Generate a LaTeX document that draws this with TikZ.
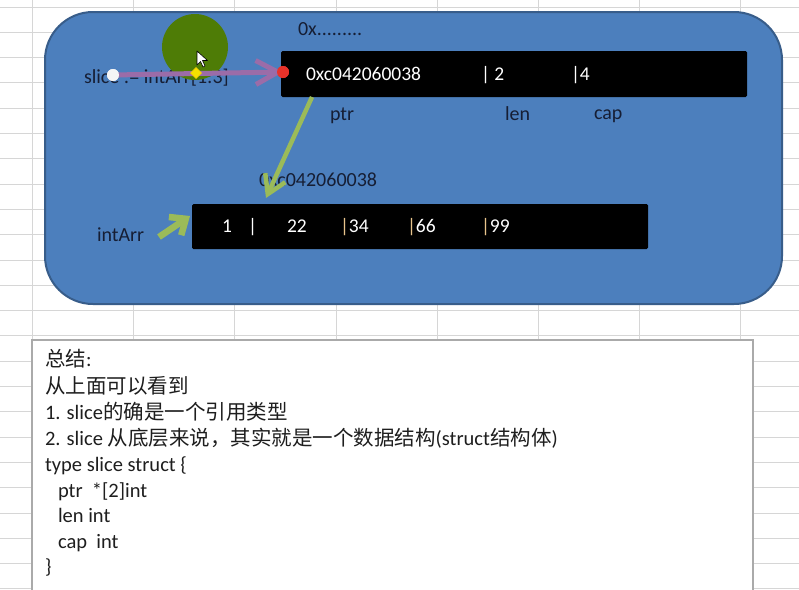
\documentclass[tikz,border=0pt]{standalone}
\usepackage{fontspec}
\setmainfont{Carlito}
\newfontfamily\cjk{Noto Sans CJK SC}
\usetikzlibrary{arrows.meta,shapes.geometric}
\definecolor{gridc}{RGB}{214,214,214}
\definecolor{bluefill}{RGB}{76,127,189}
\definecolor{blueedge}{RGB}{56,93,138}
\definecolor{labelc}{RGB}{22,30,52}
\definecolor{purplec}{RGB}{155,108,168}
\definecolor{greenc}{RGB}{155,187,89}
\definecolor{olivec}{RGB}{78,124,6}
\definecolor{redc}{RGB}{232,50,42}
\definecolor{yellowc}{RGB}{245,225,0}
\definecolor{tanc}{RGB}{232,196,140}
\definecolor{boxedge}{RGB}{170,170,170}
\definecolor{textc}{RGB}{30,30,30}
\begin{document}
\begin{tikzpicture}[x=1pt,y=-1pt,
  every node/.style={inner sep=0pt, outer sep=0pt},
  lbl/.style={anchor=base west, font=\fontsize{20}{24}\selectfont, text=labelc},
  wlbl/.style={anchor=base west, font=\fontsize{19.5}{24}\selectfont, text=white},
  sumtext/.style={anchor=base west, font=\fontsize{20.5}{25}\selectfont, text=textc},
  blackbox/.style={fill=black, rounded corners=1.5pt, anchor=north west},
  gridline/.style={draw=gridc, line width=1pt},
  dotnode/.style={circle, minimum size=12pt},
  ptrarrow/.style={draw=greenc, line width=4.5pt, -{Straight Barb[length=18pt,width=22pt]}},
  slicearrow/.style={draw=purplec, line width=5pt, -{Straight Barb[length=22pt,width=24pt]}},
  intarrow/.style={draw=greenc, line width=6.5pt, -{Straight Barb[length=13pt,width=22pt]}}
]
\useasboundingbox (0,0) rectangle (799,589);
\fill[white] (0,0) rectangle (799,589);
% spreadsheet grid
\foreach \gx in {32,133,234,336,437,538,639,740}
  \draw[gridline] (\gx,0) -- (\gx,589);
\foreach \k in {0,...,23}
  \draw[gridline] (0,{7+25.3*\k}) -- (799,{7+25.3*\k});
% blue rounded shape
\node[fill=bluefill, draw=blueedge, line width=2pt, rounded corners=48pt,
      anchor=north west, minimum width=737pt, minimum height=292pt] (panel) at (45,12) {};
% slice header box
\node[blackbox, minimum width=466pt, minimum height=46pt] (slicebox) at (281,51) {};
\node[lbl] (addrdots) at (298,35) {0x.........};
\node[wlbl] (ptrval) at (306,80) {0xc042060038};
\node[wlbl] (lenval) at (481,80) {| 2};
\node[wlbl] (capval) at (571,80) {|4};
\node[lbl] (ptrlbl) at (330,120) {ptr};
\node[lbl] (lenlbl) at (505,120) {len};
\node[lbl] (caplbl) at (594,119) {cap};
% slice statement
\node[lbl] (stmt) at (84,83) {slice := intArr[1:3]};
% mouse highlight
\node[circle, fill=olivec, minimum size=66pt] (hilite) at (195,47) {};
% array box
\node[blackbox, minimum width=456pt, minimum height=45pt] (arrbox) at (192,204) {};
\node[lbl] (arraddr) at (259,186) {0xc042060038};
\node[wlbl] (e1) at (222,232) {1};
\node[wlbl] (b1) at (248,232) {|};
\node[wlbl] (e2) at (287,232) {22};
\node[wlbl] (e3) at (340,232) {{\color{tanc}|}34};
\node[wlbl] (e4) at (407,232) {{\color{tanc}|}66};
\node[wlbl] (e5) at (481,232) {{\color{tanc}|}99};
\node[lbl] (intarr) at (97,241) {intArr};
% connectors
\node[dotnode, fill=white!92!gray] (sdot) at (113,75) {};
\node[dotnode, fill=redc] (rdot) at (283,72) {};
\draw[slicearrow] (sdot.center) -- (rdot.center);
\node[dotnode, fill=white!92!gray] at (sdot) {};
\node[dotnode, fill=redc] at (rdot) {};
\node[diamond, fill=yellowc, minimum size=11pt, draw=yellowc!80!orange, line width=0.5pt] (handle) at (196,73) {};
\coordinate (ptrstart) at (312,97);
\coordinate (ptrend) at (266,198);
\draw[ptrarrow] (ptrstart) -- (ptrend);
\coordinate (intstart) at (159,237);
\coordinate (intend) at (190,216);
\draw[intarrow] (intstart) -- (intend);
% cursor
\draw[fill=white, draw=black, line width=0.6pt, line join=round]
  (197,51) -- (197,65) -- (200.5,61.5) -- (203,67) -- (205,66) -- (202.5,60.5) -- (207.5,60.5) -- cycle;
% summary box
\node[fill=white, draw=boxedge, line width=1.2pt, anchor=north west,
      minimum width=721pt, minimum height=262pt] (summary) at (32,340) {};
\node[sumtext] (s1) at (45,366) {{\cjk 总结}:};
\node[sumtext] (s2) at (45,393) {\cjk 从上面可以看到};
\node[sumtext] (s3) at (45,419) {1. slice{\cjk 的确是一个引用类型}};
\node[sumtext] (s4) at (45,445) {2. slice {\cjk 从底层来说，其实就是一个数据结构}(struct{\cjk 结构体})};
\node[sumtext] (s5) at (45,471) {type slice struct \{};
\node[sumtext] (s6) at (58,497) {ptr\ \ *[2]int};
\node[sumtext] (s7) at (58,522) {len int};
\node[sumtext] (s8) at (58,548) {cap\ \ int};
\node[sumtext] (s9) at (45,573) {\}};
\end{tikzpicture}
\end{document}
